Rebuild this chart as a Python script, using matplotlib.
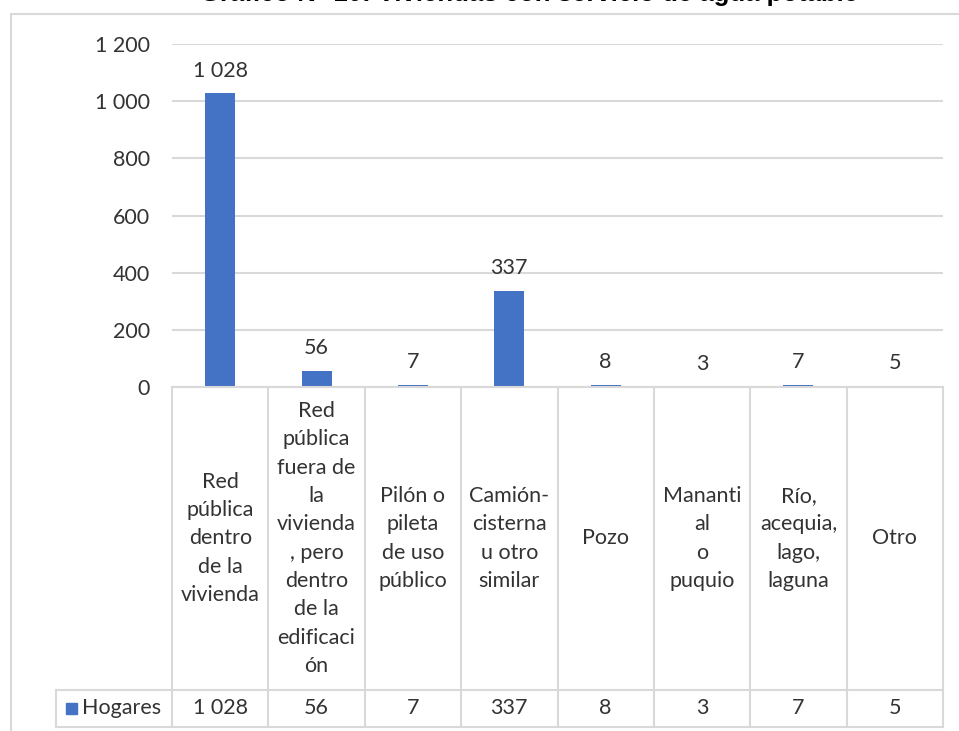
import numpy as np
import matplotlib
matplotlib.use("Agg")
import matplotlib.pyplot as plt
from matplotlib.lines import Line2D
from matplotlib.patches import Rectangle

plt.rcParams['font.family'] = ['Lato', 'DejaVu Sans']

# data
categories = [
    "Red\npública\ndentro\nde la\nvivienda",
    "Red\npública\nfuera de\nla\nvivienda\n, pero\ndentro\nde la\nedificaci\nón",
    "Pilón o\npileta\nde uso\npúblico",
    "Camión-\ncisterna\nu otro\nsimilar",
    "Pozo",
    "Mananti\nal\no\npuquio",
    "Río,\nacequia,\nlago,\nlaguna",
    "Otro",
]
hogares = [1028, 56, 7, 337, 8, 3, 7, 5]
series_name = "Hogares"
title = "Gráfico N° 10: Viviendas con servicio de agua potable"

W, H = 959, 731
BLUE = "#4472C4"
GRID = "#d9d9d9"
TXT = "#333333"
FS = 15.5


def fx(px):
    return px / W


def fy(py):
    return 1 - py / H


def fmt(v):
    return f"{v:,}".replace(",", " ")


fig = plt.figure(figsize=(W / 100, H / 100), dpi=100)

# outer chart frame
fig.patches.append(Rectangle((fx(11), fy(745)), fx(960), fy(14) - fy(745),
                             transform=fig.transFigure, fill=False,
                             edgecolor=GRID, lw=1.5))

# title, cut by the top edge as in the source image
fig.text(fx(529), fy(1), title, ha="center", va="baseline",
         fontsize=18.5, fontweight="bold", family="Liberation Sans", color="black")

left, right, top, bottom = 172, 943, 44, 387
ax = fig.add_axes([fx(left), fy(bottom), fx(right - left), fy(top) - fy(bottom)])
n = len(categories)
x = np.arange(n)
bars = ax.bar(x, hogares, width=0.31, color=BLUE, zorder=3)
ax.bar_label(bars, labels=[fmt(v) for v in hogares], padding=9,
             fontsize=FS, color=TXT)
ax.set_xlim(-0.5, n - 0.5)
ax.set_ylim(0, 1200)
ax.set_yticks(np.arange(0, 1201, 200))
ax.set_yticklabels([fmt(v) for v in range(0, 1201, 200)], fontsize=FS, color=TXT)
ax.tick_params(axis="y", length=0, pad=16)
ax.set_xticks([])
ax.grid(axis="y", color=GRID, lw=1.5, zorder=0)
for s in ax.spines.values():
    s.set_visible(False)

# data table below the chart
colw = (right - left) / n
row1, row2 = 690, 727
lines = [
    ((left, right), (bottom, bottom)),
    ((56, right), (row1, row1)),
    ((56, right), (row2, row2)),
    ((56, 56), (row1, row2)),
]
for i in range(n + 1):
    xp = left + i * colw
    lines.append(((xp, xp), (bottom, row2)))
for (xs, ys) in lines:
    fig.add_artist(Line2D([fx(v) for v in xs], [fy(v) for v in ys],
                          transform=fig.transFigure, color=GRID, lw=1.5))

for i, (cat, v) in enumerate(zip(categories, hogares)):
    cx = left + (i + 0.5) * colw
    fig.text(fx(cx), fy((bottom + row1) / 2), cat, ha="center", va="center",
             fontsize=FS, color=TXT, linespacing=1.52)
    fig.text(fx(cx), fy((row1 + row2) / 2), fmt(v), ha="center", va="center",
             fontsize=FS, color=TXT)

fig.patches.append(Rectangle((fx(66), fy(714)), fx(11), fy(703) - fy(714),
                             transform=fig.transFigure, color=BLUE))
fig.text(fx(82), fy(708), series_name, ha="left", va="center",
         fontsize=FS, color=TXT)

fig.savefig("out.png", dpi=100)
